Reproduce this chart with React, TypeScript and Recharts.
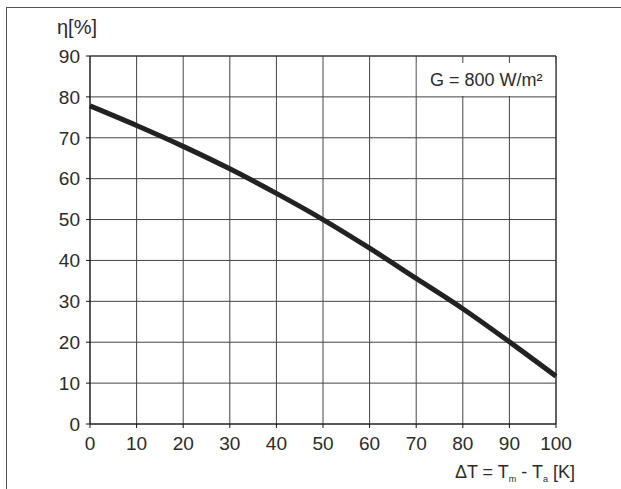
import React from 'react';
import { LineChart, Line, XAxis, YAxis, CartesianGrid, ReferenceArea, ReferenceLine } from 'recharts';

const deltaT = [0, 10, 20, 30, 40, 50, 60, 70, 80, 90, 100];
const efficiency = [77.8, 73.0, 67.9, 62.4, 56.4, 50.0, 43.0, 35.6, 28.2, 20.1, 11.7];
const xTicks = [0, 10, 20, 30, 40, 50, 60, 70, 80, 90, 100];
const yTicks = [0, 10, 20, 30, 40, 50, 60, 70, 80, 90];
const yTitle = 'η[%]';
const boxText = 'G = 800 W/m²';

const data = deltaT.map((x, i) => ({ x, eta: efficiency[i] }));

const FONT = '"Liberation Sans", Arial, sans-serif';
const TXT = '#2b2b2b';

const YTitle = (props: any) => {
  const vb = props.viewBox || {};
  return (
    <text x={vb.x + 57} y={vb.y - 22} fontSize={20} fill={TXT} fontFamily={FONT}>
      {yTitle}
    </text>
  );
};

const XTitle = (props: any) => {
  const vb = props.viewBox || {};
  return (
    <text x={vb.x + vb.width + 19} y={vb.y + 54} fontSize={18} fill={TXT} fontFamily={FONT} textAnchor="end">
      <tspan>ΔT = T</tspan>
      <tspan fontSize={9} dy={4}>m</tspan>
      <tspan dy={-4}> - T</tspan>
      <tspan fontSize={9} dy={4}>a</tspan>
      <tspan dy={-4}> [K]</tspan>
    </text>
  );
};

export default function App() {
  return (
    <div style={{ position: 'absolute', left: 0, top: 0, width: 621, height: 489, overflow: 'hidden', background: '#fff' }}>
      <div style={{ position: 'absolute', left: 6, top: 7, width: 800, height: 800, border: '1px solid #555', boxSizing: 'border-box' }} />
      <div style={{ position: 'absolute', left: 0, top: 0 }}>
        <LineChart width={621} height={489} data={data} margin={{ top: 56, right: 65, bottom: 35, left: 0 }}>
          <CartesianGrid stroke="#444" strokeWidth={1} />
          <XAxis
            dataKey="x"
            type="number"
            domain={[0, 100]}
            ticks={xTicks}
            interval={0}
            height={30}
            stroke="#111"
            tickSize={4}
            tickMargin={9}
            tick={{ fill: TXT, fontSize: 19, fontFamily: FONT }}
            label={<XTitle />}
          />
          <YAxis
            type="number"
            domain={[0, 90]}
            ticks={yTicks}
            interval={0}
            width={90}
            stroke="#111"
            tickSize={4}
            tickMargin={6}
            tick={{ fill: TXT, fontSize: 19, fontFamily: FONT }}
            label={<YTitle />}
          />
          <ReferenceArea
            x1={70.15}
            x2={99.9}
            y1={80.2}
            y2={88.3}
            fill="#fff"
            fillOpacity={1}
            stroke="none"
            ifOverflow="visible"
            label={{ value: boxText, position: 'center', fontSize: 18, fill: TXT, fontFamily: FONT }}
          />
          <ReferenceLine x={100} stroke="#222" />
          <ReferenceLine y={90} stroke="#333" />
          <Line
            type="monotone"
            dataKey="eta"
            stroke="#222"
            strokeWidth={5}
            dot={false}
            isAnimationActive={false}
          />
        </LineChart>
      </div>
    </div>
  );
}
